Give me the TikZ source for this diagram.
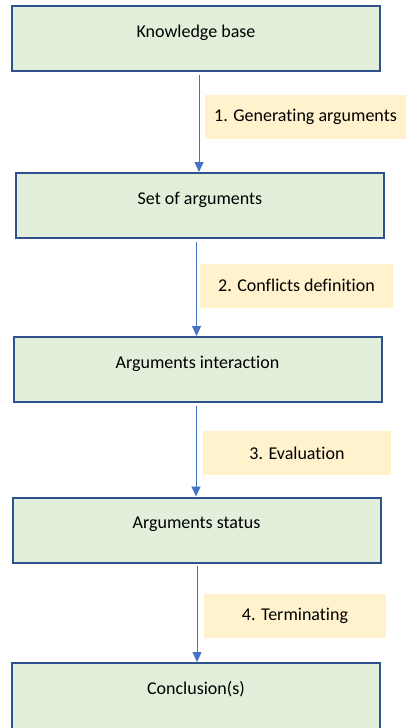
\documentclass[tikz,border=0pt]{standalone}
\usepackage{fontspec}
\setmainfont{Carlito}[Ligatures=NoCommon]
\usepackage{xcolor}
\usetikzlibrary{arrows.meta}

\definecolor{boxblue}{HTML}{2F528F}
\definecolor{boxgreen}{HTML}{E2EFDA}
\definecolor{notefill}{HTML}{FFF2CC}
\definecolor{arrowblue}{HTML}{4472C4}

\begin{document}
\begin{tikzpicture}[x=0.75pt, y=-0.75pt,
        box/.style={draw=boxblue, line width=1.5pt, fill=boxgreen, inner sep=0pt,
            minimum width=276pt, minimum height=48.75pt,
            text height=9pt, text depth=11.25pt, font=\fontsize{13.5}{16}\selectfont},
        note/.style={fill=notefill, inner sep=0pt, minimum height=33pt,
            font=\fontsize{13.5}{16}\selectfont},
        arr/.style={draw=arrowblue, line width=0.75pt, shorten <=2pt,
            -{Triangle[length=7.5pt, width=6.75pt]}}]
        \clip (0, 0) rectangle (406, 728);

        \node[box] (kb) at (196, 38.5) {Knowledge base};
        \node[box] (args) at (200, 205.5) {Set of arguments};
        \node[box] (inter) at (197.5, 369.5) {Arguments interaction};
        \node[box] (status) at (196.5, 530) {Arguments status};
        % last box runs off the bottom edge
        \node[box, minimum height=54pt, text depth=16.5pt] (concl) at (196, 699) {Conclusion(s)};

        \node[note, minimum width=150.75pt] (gen) at (305.5, 117) {1. Generating arguments};
        \node[note, minimum width=144.75pt] (conf) at (296.5, 285.5) {2. Conflicts definition};
        \node[note, minimum width=141pt] (eval) at (297, 453) {3. Evaluation};
        \node[note, minimum width=136.5pt] (term) at (295, 616) {4. Terminating};

        \draw[arr] ([xshift=2.25pt]kb.south) -- ([xshift=2.25pt]kb.south |- args.north);
        \draw[arr] ([xshift=-2.6pt]args.south) -- ([xshift=-2.6pt]args.south |- inter.north);
        \draw[arr] ([xshift=-1.1pt]inter.south) -- ([xshift=-1.1pt]inter.south |- status.north);
        \draw[arr] ([xshift=0.4pt]status.south) -- ([xshift=0.4pt]status.south |- concl.north);
    \end{tikzpicture}
\end{document}
